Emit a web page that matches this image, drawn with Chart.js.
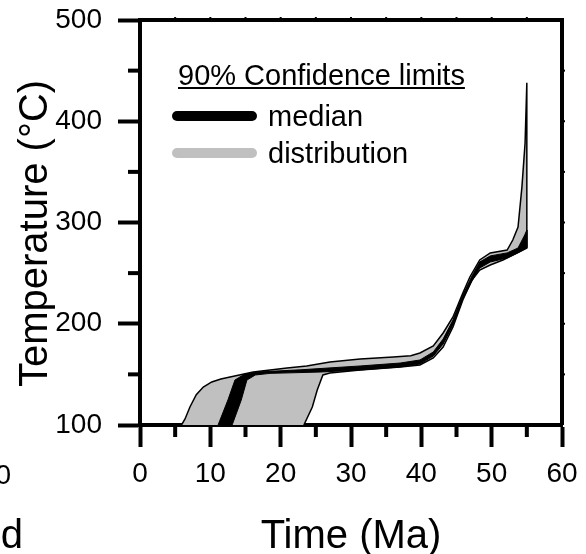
<!DOCTYPE html>
<html>
<head>
<meta charset="utf-8">
<script src="https://cdn.jsdelivr.net/npm/chart.js@4/dist/chart.umd.min.js"></script>
<style>
  html, body { margin: 0; padding: 0; background: #fff; }
</style>
</head>
<body>
<canvas id="mainGraph" width="586" height="554"></canvas>
<script>
// thermal history, time in Ma / temperature in degC
// distribution envelope, hot (upper/left) side
var envUpperTime = [5.9, 6.4, 7.1, 8.0, 9.0, 10.2, 11.5, 12.8, 16.1, 20.9, 23.7, 27.0, 31.3, 36.0, 38.5, 39.8, 41.7, 43.1, 44.5, 45.9, 46.9, 48.3, 49.8, 52.2, 53.0, 53.75, 54.3, 54.75, 55.0];
var envUpperTemp = [100, 106, 117.8, 130, 137.5, 142.5, 145.5, 147.4, 152.3, 156.3, 158.3, 162.2, 165.2, 167.2, 168.5, 171.1, 178, 190.9, 206.7, 230.4, 246.2, 263, 269.9, 272.8, 282.7, 295.6, 335, 378.5, 438];
// distribution envelope, cool (lower/right) side
var envLowerTime = [23.3, 24.5, 25.2, 26.0, 27.0, 31.3, 37.0, 39.8, 41.7, 43.1, 44.5, 45.9, 47.2, 48.3, 49.8, 51.6, 53.6, 55.0];
var envLowerTemp = [100, 117.8, 134.6, 149.4, 151.4, 154.3, 157.3, 159.3, 166.2, 177, 196.8, 223.5, 243.2, 253.1, 258, 263, 269.9, 274.8];
// median band, two edges
var medUpperTime = [11.1, 12.5, 13.5, 14.9, 17.1, 22.8, 31.3, 37.0, 39.8, 41.7, 43.1, 44.5, 45.9, 47.2, 48.3, 49.8, 52.2, 53.75, 54.7, 55.0];
var medUpperTemp = [100, 124.7, 144.4, 150.4, 152.5, 154.5, 158.3, 161.2, 164.2, 172.1, 184.9, 203.7, 228.4, 247.2, 261, 267, 270, 274.8, 287.7, 292.6];
var medLowerTime = [13.1, 14.4, 15.2, 16.4, 18.5, 25.6, 31.3, 37.0, 39.8, 41.7, 43.1, 44.5, 45.9, 47.2, 48.3, 49.8, 52.2, 54.0, 55.0];
var medLowerTemp = [100, 124.7, 144.4, 149.4, 151, 152.3, 154.3, 157.3, 160.2, 168.1, 180, 198.8, 224.4, 242.2, 255, 261, 265, 271, 275];

var legendTitle = "90% Confidence limits";
var legendNames = ["median", "distribution"];
var legendColors = ["#000000", "#c0c0c0"];
var xTitle = "Time (Ma)";
var yTitle = "Temperature (°C)";

var fontFam = '"Liberation Sans", Arial, Helvetica, sans-serif';

function toPoints(t, T) {
    var out = [];
    for (var i = 0; i < t.length; i++) out.push({x: t[i], y: T[i]});
    return out;
}
// closed shape: one edge forward, the other edge back
function band(t1, T1, t2, T2) {
    return toPoints(t1, T1).concat(toPoints(t2, T2).reverse());
}

var frameAndTicks = {
    id: 'frameAndTicks',
    afterDraw: function(chart) {
        var ctx = chart.ctx;
        var xs = chart.scales.x, ys = chart.scales.y;
        var a = chart.chartArea;
        ctx.save();
        ctx.strokeStyle = '#000';
        ctx.lineWidth = 4;
        // top and right sides of the box
        ctx.beginPath();
        ctx.moveTo(a.left, a.top);
        ctx.lineTo(a.right, a.top);
        ctx.lineTo(a.right, a.bottom);
        ctx.stroke();
        // minor ticks
        for (var v = 5; v < 60; v += 10) {
            var px = xs.getPixelForValue(v);
            ctx.beginPath(); ctx.moveTo(px, a.bottom); ctx.lineTo(px, a.bottom + 12); ctx.stroke();
        }
        for (var w = 150; w < 500; w += 100) {
            var py = ys.getPixelForValue(w);
            ctx.beginPath(); ctx.moveTo(a.left - 12, py); ctx.lineTo(a.left, py); ctx.stroke();
        }
        // tiny ticks on top and right
        ctx.lineWidth = 2;
        for (v = 5; v < 60; v += 5) {
            px = xs.getPixelForValue(v);
            ctx.beginPath(); ctx.moveTo(px, a.top); ctx.lineTo(px, a.top - 3); ctx.stroke();
        }
        for (w = 150; w < 500; w += 50) {
            py = ys.getPixelForValue(w);
            ctx.beginPath(); ctx.moveTo(a.right, py); ctx.lineTo(a.right + 3, py); ctx.stroke();
        }

        ctx.fillStyle = '#000';
        ctx.textBaseline = 'alphabetic';

        // axis titles
        ctx.font = '40px ' + fontFam;
        ctx.textAlign = 'center';
        ctx.fillText(xTitle, (a.left + a.right) / 2, 548);
        ctx.save();
        ctx.translate(47, 233.5);
        ctx.rotate(-Math.PI / 2);
        ctx.fillText(yTitle, 0, 0);
        ctx.restore();

        // legend
        ctx.textAlign = 'left';
        ctx.font = '29px ' + fontFam;
        ctx.fillText(legendTitle, 178, 85);
        var tw = ctx.measureText(legendTitle).width;
        ctx.fillRect(178, 87, tw, 2);
        ctx.lineCap = 'round';
        ctx.lineWidth = 10;
        var rows = [116, 153];
        for (var i = 0; i < legendNames.length; i++) {
            ctx.strokeStyle = legendColors[i];
            ctx.beginPath(); ctx.moveTo(177, rows[i]); ctx.lineTo(252, rows[i]); ctx.stroke();
            ctx.fillText(legendNames[i], 268, rows[i] + 10);
        }

        // pieces of the neighbouring panel cut by the left edge
        ctx.textAlign = 'right';
        ctx.font = '28px ' + fontFam;
        ctx.fillText('60', 11, 484);
        ctx.font = '40px ' + fontFam;
        ctx.fillText('d', 23, 548);
        ctx.restore();
    }
};

var ctx = document.getElementById('mainGraph').getContext('2d');
var chart = new Chart(ctx, {
    type: 'line',
    data: {
        datasets: [
            {
                label: 'median',
                data: band(medUpperTime, medUpperTemp, medLowerTime, medLowerTemp),
                borderColor: '#000',
                backgroundColor: '#000',
                borderWidth: 1,
                pointRadius: 0,
                tension: 0,
                fill: 'shape'
            },
            {
                label: 'distribution',
                data: band(envUpperTime, envUpperTemp, envLowerTime, envLowerTemp),
                borderColor: '#000',
                backgroundColor: '#c0c0c0',
                borderWidth: 1.5,
                pointRadius: 0,
                tension: 0,
                fill: 'shape'
            }
        ]
    },
    options: {
        responsive: false,
        animation: false,
        events: [],
        layout: { padding: { left: 0, right: 24, top: 20, bottom: 0 } },
        plugins: {
            legend: { display: false },
            tooltip: { enabled: false }
        },
        scales: {
            x: {
                type: 'linear',
                min: 0, max: 60,
                ticks: { stepSize: 10, color: '#000', padding: 10, maxRotation: 0,
                         font: { family: fontFam, size: 28 } },
                grid: { drawOnChartArea: false, tickLength: 22, tickWidth: 4, tickColor: '#000' },
                border: { display: true, color: '#000', width: 4 },
                afterFit: function(s) { s.height = 129; s.paddingLeft = 0; s.paddingRight = 0; }
            },
            y: {
                type: 'linear',
                min: 100, max: 500,
                ticks: { stepSize: 100, color: '#000', padding: 16,
                         font: { family: fontFam, size: 28 } },
                grid: { drawOnChartArea: false, tickLength: 22, tickWidth: 4, tickColor: '#000' },
                border: { display: true, color: '#000', width: 4 },
                afterFit: function(s) { s.width = 140; s.paddingTop = 0; s.paddingBottom = 0; }
            }
        }
    },
    plugins: [frameAndTicks]
});
</script>
</body>
</html>
